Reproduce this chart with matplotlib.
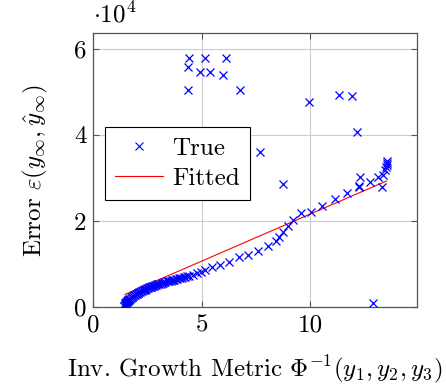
import matplotlib
matplotlib.use("Agg")
import matplotlib.pyplot as plt
from matplotlib.lines import Line2D

plt.rcParams['font.family'] = ['cmr10', 'DejaVu Serif']
plt.rcParams['mathtext.fontset'] = 'cm'
plt.rcParams['axes.formatter.use_mathtext'] = True

# Data (y in units of 1e4)
dense_x = [1.40, 1.42, 1.44, 1.46, 1.48, 1.50, 1.52, 1.54, 1.56, 1.58, 1.60, 1.62, 1.64, 1.66,
           1.68, 1.72, 1.76, 1.80, 1.84, 1.88, 1.92,
           1.96, 2.00, 2.04, 2.08, 2.12, 2.16, 2.20, 2.24, 2.28, 2.32, 2.36, 2.40, 2.44, 2.48,
           2.52, 2.56, 2.60, 2.64, 2.68, 2.72, 2.76, 2.80, 2.85, 2.90, 2.95, 3.00, 3.05, 3.10,
           3.15, 3.20, 3.26, 3.32, 3.38, 3.44, 3.50, 3.56, 3.62, 3.68, 3.74, 3.80, 3.87, 3.94,
           4.01, 4.08, 4.16, 4.24, 4.32, 4.42]
dense_y = [0.03, 0.04, 0.06, 0.07, 0.09, 0.10, 0.12, 0.13, 0.14, 0.15, 0.16, 0.17, 0.18, 0.19,
           0.20, 0.22, 0.24, 0.25, 0.27, 0.28, 0.29,
           0.31, 0.32, 0.33, 0.34, 0.35, 0.36, 0.37, 0.38, 0.39, 0.40, 0.41, 0.42, 0.43, 0.44,
           0.45, 0.46, 0.46, 0.47, 0.48, 0.49, 0.49, 0.50, 0.51, 0.52, 0.53, 0.53, 0.54, 0.55,
           0.56, 0.57, 0.58, 0.59, 0.60, 0.60, 0.61, 0.62, 0.63, 0.64, 0.64, 0.65, 0.66, 0.67,
           0.68, 0.69, 0.70, 0.71, 0.72, 0.73]
trend_x = [4.60, 4.77, 4.96, 5.15, 5.46, 5.84, 6.27, 6.72, 7.15, 7.61, 8.07, 8.43, 8.58, 8.76,
           9.00, 9.22, 9.57, 10.04, 10.56, 11.15, 11.69, 12.26, 12.76, 13.15, 13.30, 13.38,
           13.46, 13.50, 13.53, 13.55, 13.55, 12.30]
trend_y = [0.76, 0.79, 0.83, 0.87, 0.93, 0.98, 1.06, 1.16, 1.21, 1.31, 1.42, 1.54, 1.64, 1.75,
           1.89, 2.03, 2.18, 2.22, 2.35, 2.51, 2.64, 2.81, 2.91, 3.01, 2.80, 3.07,
           3.19, 3.25, 3.30, 3.35, 3.40, 3.03]
outlier_x = [4.43, 5.15, 6.10, 4.37, 4.92, 5.38, 5.99, 4.35, 6.77, 7.67, 9.96, 11.35, 11.92,
             12.18, 8.75, 12.26, 12.92]
outlier_y = [5.78, 5.78, 5.78, 5.58, 5.45, 5.45, 5.39, 5.03, 5.03, 3.59, 4.77, 4.93, 4.89,
             4.07, 2.87, 2.80, 0.09]
fit_x = [1.46, 13.53]
fit_y = [0.30, 2.93]
scale = 1e4

true_x = dense_x + trend_x + outlier_x
true_y = [v * scale for v in dense_y + trend_y + outlier_y]

fig = plt.figure(figsize=(4.46, 3.87), dpi=100)
ax = fig.add_axes([0.2094, 0.2059, 0.7249, 0.7088])

ax.plot(true_x, true_y, linestyle='none', marker='x', color='#0000ff',
        markersize=6, markeredgewidth=0.9, label='True', zorder=3)
ax.plot(fit_x, [v * scale for v in fit_y], color='#ff0000', linewidth=0.8, label='Fitted', zorder=2)

ax.set_xlim(0, 14.92)
ax.set_ylim(0, 6.36e4)
ax.set_xticks([0, 5, 10])
ax.set_xticklabels(['0', '5', '10'])
ax.set_yticks([0, 2e4, 4e4, 6e4])
ax.set_yticklabels(['0', '2', '4', '6'])
ax.grid(True, color='#cccccc', linewidth=0.8)
ax.set_axisbelow(True)
ax.tick_params(direction='in', length=4, width=0.8, color='#555555', labelsize=18,
               top=True, right=True, pad=5)
for s in ax.spines.values():
    s.set_color('#555555')
    s.set_linewidth(0.9)

ax.set_xlabel(r'Inv. Growth Metric $\Phi^{-1}(y_1,y_2,y_3)$', fontsize=18, labelpad=12)
ax.set_ylabel(r'Error $\varepsilon(y_\infty,\hat{y}_\infty)$', fontsize=18, labelpad=17)
fig.text(0.208, 0.93, r'$\cdot 10^4$', fontsize=18, ha='left', va='bottom')

handles = [Line2D([], [], linestyle='none', marker='x', color='#0000ff', markersize=6,
                  markeredgewidth=0.8),
           Line2D([], [], color='#ff0000', linewidth=0.8)]
leg = ax.legend(handles, ['True', 'Fitted'], loc='upper left', bbox_to_anchor=(0.036, 0.657),
                borderaxespad=0, fancybox=False, framealpha=1, edgecolor='black',
                fontsize=18, handlelength=1.9, borderpad=0.4, labelspacing=0.3,
                handletextpad=0.4)
leg.get_frame().set_linewidth(0.8)

fig.savefig('out.png', dpi=100)
